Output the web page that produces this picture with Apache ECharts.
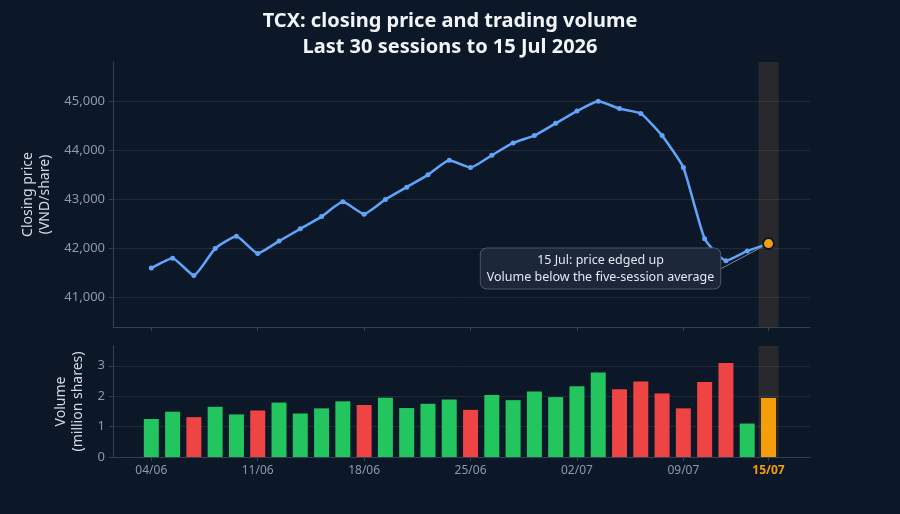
<!DOCTYPE html>
<html>
<head>
<meta charset="utf-8">
<title>TCX closing price and volume</title>
<script src="https://cdn.jsdelivr.net/npm/echarts@6/dist/echarts.min.js"></script>
<style>
  html, body { margin: 0; padding: 0; background: #0c1728; }
  #chart { width: 900px; height: 514px; }
</style>
</head>
<body>
<div id="chart"></div>
<script>
// session dates (dd/mm), last 30 sessions
const dates = [
  '04/06', '05/06', '08/06', '09/06', '10/06', '11/06', '12/06', '15/06', '16/06', '17/06',
  '18/06', '19/06', '22/06', '23/06', '24/06', '25/06', '26/06', '29/06', '30/06', '01/07',
  '02/07', '03/07', '06/07', '07/07', '08/07', '09/07', '10/07', '13/07', '14/07', '15/07'
];
// closing price, VND/share
const prices = [
  41600, 41800, 41450, 42000, 42250, 41900, 42150, 42400, 42650, 42950,
  42700, 43000, 43250, 43500, 43800, 43650, 43900, 44150, 44300, 44550,
  44800, 45000, 44850, 44750, 44300, 43650, 42200, 41750, 41950, 42100
];
// volume, million shares
const volumes = [
  1.25, 1.49, 1.31, 1.65, 1.40, 1.53, 1.79, 1.43, 1.60, 1.83,
  1.71, 1.95, 1.61, 1.75, 1.89, 1.55, 2.04, 1.87, 2.15, 1.97,
  2.33, 2.78, 2.23, 2.48, 2.09, 1.60, 2.47, 3.09, 1.10, 1.94
];
const tickIdx = [0, 5, 10, 15, 20, 25, 29];
const priceTicks = [41000, 42000, 43000, 44000, 45000];
const volTicks = [0, 1, 2, 3];

const last = dates.length - 1;
const UP = '#22c55e', DOWN = '#ef4444', HL = '#f59e0b', LINE = '#60a5fa';
const BG = '#0c1728';
const gridLine = 'rgba(255,255,255,0.08)';
const axisCol = '#344055';
const labelCol = '#8e99aa';

const chart = echarts.init(document.getElementById('chart'));

// last point: highlighted dot + callout
const priceData = prices.map((v, i) => {
  if (i !== last) return [i, v];
  return {
    value: [i, v],
    symbolSize: 11,
    itemStyle: { color: HL, borderColor: BG, borderWidth: 2 },
    label: {
      show: true,
      position: 'inside',
      formatter: '15 Jul: price edged up\nVolume below the five-session average',
      color: '#e2e8f0',
      fontSize: 12.5,
      lineHeight: 17,
      fontFamily: 'Noto Sans',
      backgroundColor: '#1c2739',
      borderColor: '#4a5568',
      borderWidth: 1,
      borderRadius: 6,
      padding: [3, 6, 3, 6]
    },
    labelLine: { show: true, lineStyle: { color: '#7b8596', width: 1 } }
  };
});

// bar colour follows the day's price move
const volData = volumes.map((v, i) => {
  let c = UP;
  if (i === last) c = HL;
  else if (i > 0 && prices[i] < prices[i - 1]) c = DOWN;
  return { value: [i, v], itemStyle: { color: c } };
});

const band = {
  silent: true,
  itemStyle: { color: 'rgba(140,110,60,0.22)' },
  data: [[{ xAxis: last - 0.47 }, { xAxis: last + 0.47 }]]
};

const xBase = {
  type: 'value',
  min: -1.8,
  max: 30.95,
  axisLine: { show: true, onZero: false, lineStyle: { color: axisCol } },
  axisTick: { show: true, length: 4, lineStyle: { color: axisCol }, customValues: tickIdx },
  splitLine: { show: false }
};

const option = {
  backgroundColor: BG,
  animation: false,
  textStyle: { fontFamily: 'Noto Sans' },
  title: {
    text: 'TCX: closing price and trading volume\nLast 30 sessions to 15 Jul 2026',
    left: 'center',
    top: 3,
    textStyle: { color: '#f1f5f9', fontSize: 20, fontWeight: 'bold', lineHeight: 26, fontFamily: 'Noto Sans' }
  },
  grid: [
    { left: 113, right: 90, top: 62, height: 265 },
    { left: 113, right: 90, top: 346, height: 111 }
  ],
  xAxis: [
    Object.assign({}, xBase, { gridIndex: 0, axisLabel: { show: false } }),
    Object.assign({}, xBase, {
      gridIndex: 1,
      axisLabel: {
        customValues: tickIdx,
        color: labelCol,
        fontSize: 12,
        margin: 8,
        formatter: v => {
          const d = dates[Math.round(v)];
          return Math.round(v) === last ? '{hl|' + d + '}' : d;
        },
        rich: { hl: { color: HL, fontWeight: 'bold', fontSize: 12 } }
      }
    })
  ],
  yAxis: [
    {
      type: 'value',
      gridIndex: 0,
      min: 40400,
      max: 45800,
      name: 'Closing price\n(VND/share)',
      nameLocation: 'middle',
      nameGap: 58,
      nameTextStyle: { color: '#d5dbe4', fontSize: 14, lineHeight: 17 },
      axisLine: { show: true, onZero: false, lineStyle: { color: axisCol } },
      axisTick: { show: true, length: 4, lineStyle: { color: axisCol }, customValues: priceTicks },
      axisLabel: {
        customValues: priceTicks,
        color: labelCol,
        fontSize: 13,
        formatter: v => v.toLocaleString('en-US')
      },
      splitLine: { show: true, lineStyle: { color: gridLine } }
    },
    {
      type: 'value',
      gridIndex: 1,
      min: 0,
      max: 3.65,
      name: 'Volume\n(million shares)',
      nameLocation: 'middle',
      nameGap: 25,
      nameTextStyle: { color: '#d5dbe4', fontSize: 14, lineHeight: 17 },
      axisLine: { show: true, onZero: false, lineStyle: { color: axisCol } },
      axisTick: { show: true, length: 4, lineStyle: { color: axisCol }, customValues: volTicks },
      axisLabel: { customValues: volTicks, color: labelCol, fontSize: 13 },
      splitLine: { show: true, lineStyle: { color: gridLine } }
    }
  ],
  series: [
    {
      name: 'Closing price',
      type: 'line',
      xAxisIndex: 0,
      yAxisIndex: 0,
      data: priceData,
      smooth: 0.15,
      symbol: 'circle',
      symbolSize: 5,
      lineStyle: { color: LINE, width: 2.5 },
      itemStyle: { color: LINE },
      labelLayout: p => (p.dataIndex === last ? { dx: -168, dy: 25 } : null),
      markArea: band,
      z: 3
    },
    {
      name: 'Volume',
      type: 'bar',
      xAxisIndex: 1,
      yAxisIndex: 1,
      data: volData,
      barWidth: 15,
      markArea: band
    }
  ]
};

chart.setOption(option);
</script>
</body>
</html>
